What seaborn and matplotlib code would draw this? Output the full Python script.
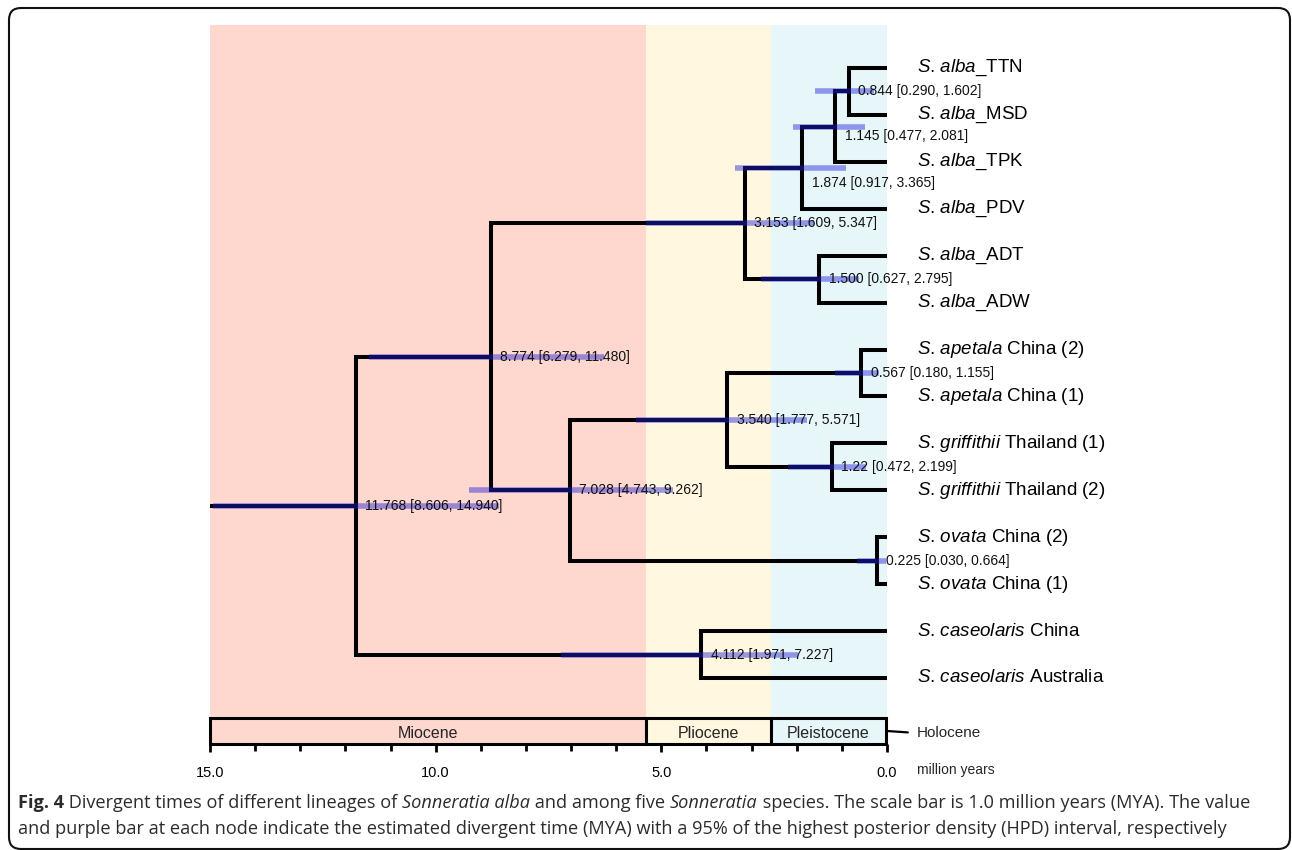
import numpy as np
import pandas as pd
import seaborn as sns
import matplotlib.pyplot as plt
from matplotlib.patches import FancyBboxPatch
from matplotlib.transforms import IdentityTransform
from matplotlib.ticker import MultipleLocator, FormatStrFormatter

# tips, top to bottom
tip_species = ["alba", "alba", "alba", "alba", "alba", "alba",
               "apetala", "apetala", "griffithii", "griffithii",
               "ovata", "ovata", "caseolaris", "caseolaris"]
tip_suffix = ["_TTN", "_MSD", "_TPK", "_PDV", "_ADT", "_ADW",
              " China (2)", " China (1)", " Thailand (1)", " Thailand (2)",
              " China (2)", " China (1)", " China", " Australia"]

# internal nodes (n0 = root)
node_age = [11.768, 8.774, 7.028, 3.153, 1.874, 1.145, 0.844, 1.500,
            3.540, 0.567, 1.22, 0.225, 4.112]
node_age_txt = ["11.768", "8.774", "7.028", "3.153", "1.874", "1.145", "0.844",
                "1.500", "3.540", "0.567", "1.22", "0.225", "4.112"]
hpd_low = [8.606, 6.279, 4.743, 1.609, 0.917, 0.477, 0.290, 0.627,
           1.777, 0.180, 0.472, 0.030, 1.971]
hpd_high = [14.940, 11.480, 9.262, 5.347, 3.365, 2.081, 1.602, 2.795,
            5.571, 1.155, 2.199, 0.664, 7.227]
node_children = [["n1", "n12"], ["n3", "n2"], ["n8", "n11"], ["n4", "n7"],
                 ["n5", "t3"], ["n6", "t2"], ["t0", "t1"], ["t4", "t5"],
                 ["n9", "n10"], ["t6", "t7"], ["t8", "t9"], ["t10", "t11"],
                 ["t12", "t13"]]
root_stem_from = 15.0

# geological epochs
epoch_names = ["Miocene", "Pliocene", "Pleistocene"]
epoch_old = [15.0, 5.333, 2.58]
epoch_young = [5.333, 2.58, 0.0117]
epoch_colors = ["#FED8CF", "#FFF7DF", "#E7F6F8"]

caption_1 = [("Fig. 4", "bold"), (" Divergent times of different lineages of ", "normal"),
             ("Sonneratia alba", "italic"), (" and among five ", "normal"),
             ("Sonneratia", "italic"),
             (" species. The scale bar is 1.0 million years (MYA). The value", "normal")]
caption_2 = [("and purple bar at each node indicate the estimated divergent time (MYA) "
              "with a 95% of the highest posterior density (HPD) interval, respectively", "normal")]

sns.set_theme(style="white")
plt.rcParams["font.family"] = ["Liberation Sans", "DejaVu Sans"]
plt.rcParams["mathtext.fontset"] = "custom"
plt.rcParams["mathtext.rm"] = "Liberation Sans"
plt.rcParams["mathtext.it"] = "Liberation Sans:italic"

# ---- tree layout (tips on integer rows, nodes at midpoint of children)
xpos, ypos = {}, {}
for i in range(len(tip_species)):
    xpos[f"t{i}"] = 0.0
    ypos[f"t{i}"] = float(i)


def place(key):
    if key in ypos:
        return ypos[key]
    i = int(key[1:])
    ys = [place(c) for c in node_children[i]]
    xpos[key] = node_age[i]
    ypos[key] = (min(ys) + max(ys)) / 2
    return ypos[key]


place("n0")

rows = []
seg = 0
rows += [(seg, root_stem_from, ypos["n0"]), (seg, xpos["n0"], ypos["n0"])]
for i, kids in enumerate(node_children):
    p = f"n{i}"
    for c in kids:
        seg += 1
        rows += [(seg, xpos[p], ypos[p]), (seg, xpos[p], ypos[c]), (seg, xpos[c], ypos[c])]
branches = pd.DataFrame(rows, columns=["seg", "x", "y"])

W, H = 1292, 850
fig = plt.figure(figsize=(W / 100, H / 100), dpi=100)
ax_top, ax_bot = 25, 744          # pixel rows of the plotting area
row0, row_step = 68, 46.92       # pixel row of first tip, tip spacing
ax = fig.add_axes([210 / W, 1 - ax_bot / H, 677 / W, (ax_bot - ax_top) / H])
y_min = (ax_top - row0) / row_step
y_max = (ax_bot - row0) / row_step
y_epoch = (718 - row0) / row_step

# background bands
for old, young, col in zip(epoch_old, epoch_young, epoch_colors):
    ax.axvspan(young if young > 0.1 else 0.0, old, color=col, lw=0, zorder=0)
ax.axvline(0, color="#c9dde6", lw=0.8, zorder=0.5)

sns.lineplot(data=branches, x="x", y="y", units="seg", estimator=None, sort=False,
             color="black", lw=2.9, solid_joinstyle="miter", solid_capstyle="butt",
             legend=False, ax=ax, zorder=2)

# HPD bars
node_y = [ypos[f"n{i}"] for i in range(len(node_age))]
ax.hlines(node_y, hpd_low, hpd_high, color=(0.13, 0.13, 0.85), alpha=0.45,
          lw=4.0, zorder=3)

# node labels
nudge = {4: -11, 5: -7}
for i, (a, lo, hi) in enumerate(zip(node_age_txt, hpd_low, hpd_high)):
    ax.annotate(f"{a} [{lo:.3f}, {hi:.3f}]", (node_age[i], node_y[i]),
                xytext=(6.8, nudge.get(i, 0)), textcoords="offset points",
                ha="left", va="center", fontsize=10, color="#111", zorder=5)

# tip labels
for i, (sp, suf) in enumerate(zip(tip_species, tip_suffix)):
    ax.annotate(rf"$\mathit{{S}}$. $\mathit{{{sp}}}${suf}", (0, i),
                xytext=(21.6, 0), textcoords="offset points",
                ha="left", va="center", fontsize=13.5, color="black",
                annotation_clip=False)

# epoch bar
y_mid = (y_epoch + y_max) / 2
ax.barh([y_mid] * 3, [o - y for o, y in zip(epoch_old, epoch_young)], left=epoch_young,
        height=y_max - y_epoch, color=epoch_colors, edgecolor="black", lw=2.2,
        zorder=4, clip_on=False)
for name, old, young in zip(epoch_names, epoch_old, epoch_young):
    ax.annotate(name, ((old + young) / 2, y_mid), xytext=(0, -1.5),
                textcoords="offset points", ha="center", va="center", fontsize=11.5,
                zorder=5)
ax.annotate("", xy=(0, y_mid), xytext=(15, -1), textcoords="offset points",
            arrowprops=dict(arrowstyle="-", lw=1.6, color="black", shrinkA=0, shrinkB=0),
            annotation_clip=False)
ax.annotate("Holocene", (0, y_mid), xytext=(21.6, -1.5), textcoords="offset points",
            ha="left", va="center", fontsize=11, annotation_clip=False)
ax.annotate("million years", (0, 0), xycoords=("data", "axes fraction"),
            xytext=(21.6, -19), textcoords="offset points", ha="left", va="center",
            fontsize=10, annotation_clip=False)

ax.set_xlim(15, 0)
ax.set_ylim(y_max, y_min)
ax.set_xlabel("")
ax.set_ylabel("")
ax.set_yticks([])
for s in ax.spines.values():
    s.set_visible(False)
ax.xaxis.set_major_locator(MultipleLocator(5))
ax.xaxis.set_minor_locator(MultipleLocator(1))
ax.xaxis.set_major_formatter(FormatStrFormatter("%.1f"))
ax.tick_params(axis="x", which="major", direction="out", length=6, width=2,
               bottom=True, pad=10, labelsize=10.5, colors="black")
ax.tick_params(axis="x", which="minor", direction="out", length=5, width=2,
               bottom=True, colors="black")
ax.set_facecolor("white")

# outer frame
frame = FancyBboxPatch((9, 1), 1281, 841, boxstyle="round,pad=0,rounding_size=12",
                       transform=IdentityTransform(), fill=False, ec="#111111", lw=1.5)
fig.add_artist(frame)

# caption with mixed styles
renderer = fig.canvas.get_renderer()
cap_kw = dict(family=["Open Sans", "DejaVu Sans"], color="#2b2b2b", va="baseline")


def text_width(s, style, size):
    t = fig.text(0, 0, "|" + s + "|", fontsize=size,
                 fontweight="bold" if style == "bold" else "normal",
                 fontstyle="italic" if style == "italic" else "normal", **cap_kw)
    w = t.get_window_extent(renderer).width
    t.remove()
    t = fig.text(0, 0, "||", fontsize=size,
                 fontweight="bold" if style == "bold" else "normal",
                 fontstyle="italic" if style == "italic" else "normal", **cap_kw)
    w -= t.get_window_extent(renderer).width
    t.remove()
    return w


def rich_line(parts, x, y, size):
    for s, style in parts:
        fig.text(x / W, 1 - y / H, s, fontsize=size,
                 fontweight="bold" if style == "bold" else "normal",
                 fontstyle="italic" if style == "italic" else "normal", **cap_kw)
        x += text_width(s, style, size)


line_w = sum(text_width(s, st, 12) for s, st in caption_1)
cap_size = 12 * (1250 - 18) / line_w
rich_line(caption_1, 18, 808, cap_size)
rich_line(caption_2, 18, 834, cap_size)

fig.savefig("out.png", dpi=100, facecolor="white")
